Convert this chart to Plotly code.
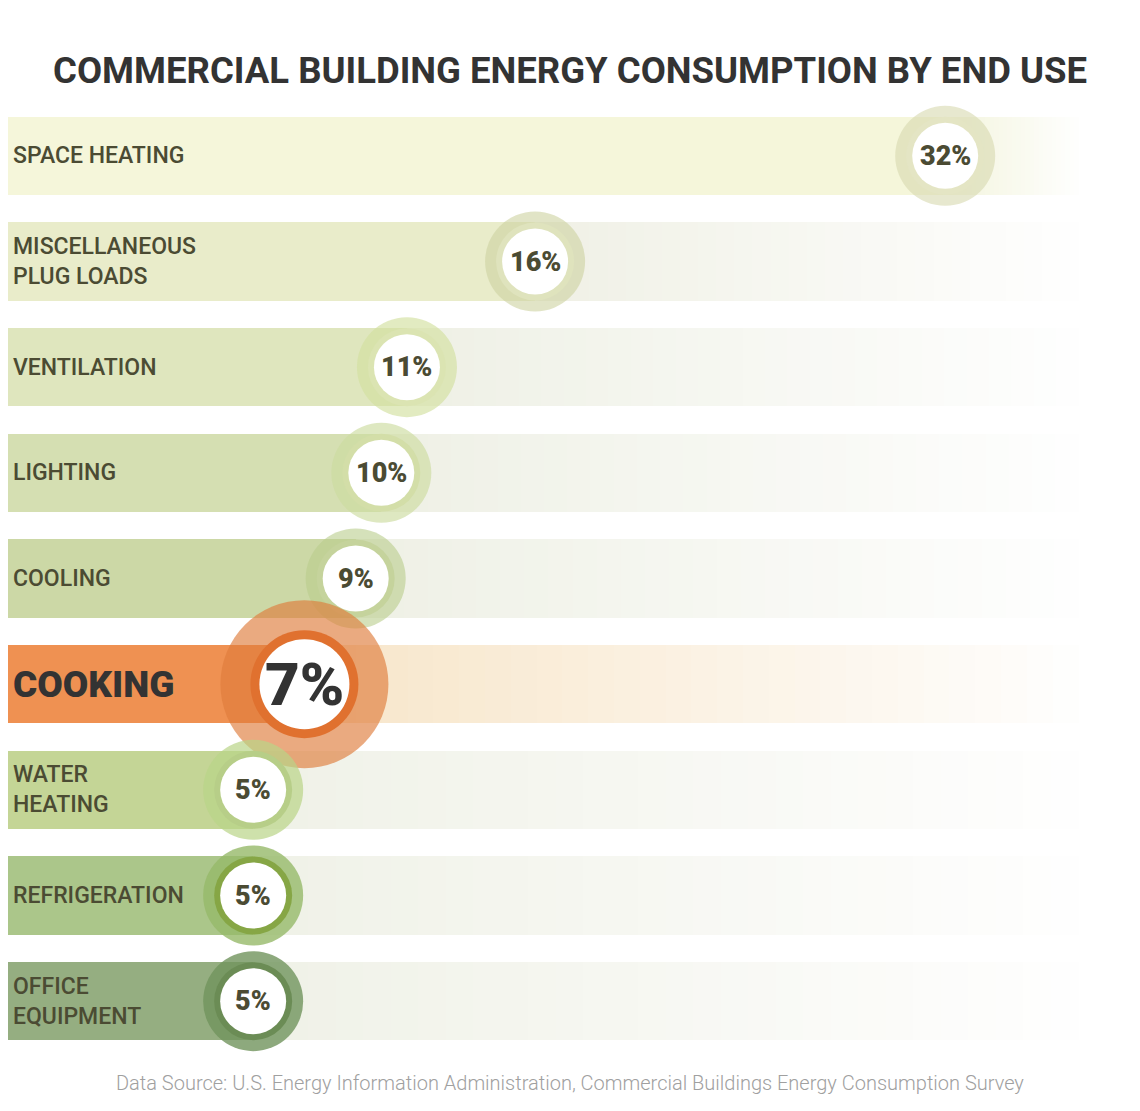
import plotly.graph_objects as go

# Dados do gráfico
categorias = [
    "SPACE HEATING",
    "MISCELLANEOUS<br>PLUG LOADS",
    "VENTILATION",
    "LIGHTING",
    "COOLING",
    "COOKING",
    "WATER<br>HEATING",
    "REFRIGERATION",
    "OFFICE<br>EQUIPMENT",
]
percentuais = [32, 16, 11, 10, 9, 7, 5, 5, 5]
rotulos = ["32%", "16%", "11%", "10%", "9%", "7%", "5%", "5%", "5%"]
destaque = "COOKING"

titulo = "COMMERCIAL BUILDING ENERGY CONSUMPTION BY END USE"
fonte = "Data Source: U.S. Energy Information Administration, Commercial Buildings Energy Consumption Survey"

# Cores (barra, anel externo, anel interno, cauda)
cor_barra = ["#f5f6da", "#e9ecca", "#dfe6be", "#d5dfb2", "#ccd8a6",
             "#ef9152", "#c4d596", "#abc68a", "#95ae81"]
cor_anel = ["rgba(215,217,175,0.6)", "rgba(205,210,160,0.6)", "rgba(210,225,160,0.65)",
            "rgba(205,220,160,0.65)", "rgba(185,205,140,0.6)", "rgba(222,125,60,0.65)",
            "rgba(185,212,135,0.7)", "rgba(150,185,105,0.8)", "rgba(112,148,92,0.8)"]
cor_interno = ["#e4e5c4", "#dfe3bd", "#dbe4b2", "#d3dea8", "#c5d39c",
               "#e0712f", "#b7ce88", "#86a645", "#6b8c55"]
cor_cauda = [(244, 245, 222), (240, 241, 230), (239, 241, 230), (239, 241, 230), (239, 241, 230),
             (248, 230, 202), (240, 242, 232), (240, 242, 232), (240, 242, 232)]

X_MIN = -4.565
X_MAX = 39.6
FIM_CAUDA = 37.2
N_SEG = 30

fig = go.Figure()

# Caudas com degradê até o branco
for k in range(N_SEG):
    t = k / N_SEG
    cores = []
    bases = []
    larguras = []
    for i, v in enumerate(percentuais):
        r, g, b = cor_cauda[i]
        cores.append("rgb(%d,%d,%d)" % (r + (255 - r) * t, g + (255 - g) * t, b + (255 - b) * t))
        passo = (FIM_CAUDA - v) / N_SEG
        bases.append(v + k * passo)
        larguras.append(passo * 1.02)
    fig.add_trace(go.Bar(
        y=categorias, x=larguras, base=bases, orientation="h",
        marker=dict(color=cores, line=dict(width=0)), width=0.74,
        hoverinfo="skip", showlegend=False,
    ))

# Barras sólidas
fig.add_trace(go.Bar(
    y=categorias, x=[v - X_MIN for v in percentuais], base=X_MIN, orientation="h",
    marker=dict(color=cor_barra, line=dict(width=0)), width=0.74,
    hoverinfo="skip", showlegend=False,
))

# Círculos nas pontas
tam_ext = [168 if c == destaque else 100 for c in categorias]
tam_int = [108 if c == destaque else 78 for c in categorias]
tam_branco = [90 if c == destaque else 66 for c in categorias]
for i in range(len(categorias)):
    for tam, cor in [(tam_ext, cor_anel), (tam_int, cor_interno), (tam_branco, ["white"] * 9)]:
        fig.add_trace(go.Scatter(
            x=[percentuais[i]], y=[categorias[i]], mode="markers",
            marker=dict(size=tam[i], color=cor[i], line=dict(width=0)),
            hoverinfo="skip", showlegend=False, cliponaxis=False,
        ))

# Rótulos das categorias e percentuais
for c, v, r in zip(categorias, percentuais, rotulos):
    grande = c == destaque
    fig.add_annotation(
        x=0, xref="paper", xshift=3, xanchor="left", y=c, yref="y",
        text=c, showarrow=False, align="left",
        font=dict(family="Roboto", size=37 if grande else 23,
                  weight=900 if grande else 500,
                  color="#333333" if grande else "#4b4b33"),
    )
    fig.add_annotation(
        x=v, y=c, text=r, showarrow=False,
        font=dict(family="Roboto", size=60 if grande else 27, weight=900,
                  color="#333333" if grande else "#4b4b33"),
    )

fig.add_annotation(
    x=0.4965, xref="paper", y=0, yref="paper", yshift=-29, yanchor="middle",
    text=fonte, showarrow=False,
    font=dict(family="Roboto", size=20, weight=300, color="#a0a0a0"),
)

fig.update_layout(
    width=1132, height=1103,
    margin=dict(l=0, r=0, t=95, b=57),
    paper_bgcolor="white", plot_bgcolor="white",
    barmode="overlay", bargap=0,
    title=dict(text=titulo, x=0.4965, xanchor="center", y=1 - 62 / 1103, yanchor="middle",
               font=dict(family="Roboto", size=36.5, weight=700, color="#333333")),
    xaxis=dict(range=[X_MIN, X_MAX], visible=False),
    yaxis=dict(range=[len(categorias) - 0.5, -0.5], visible=False),
)

fig.write_html("out.html")
